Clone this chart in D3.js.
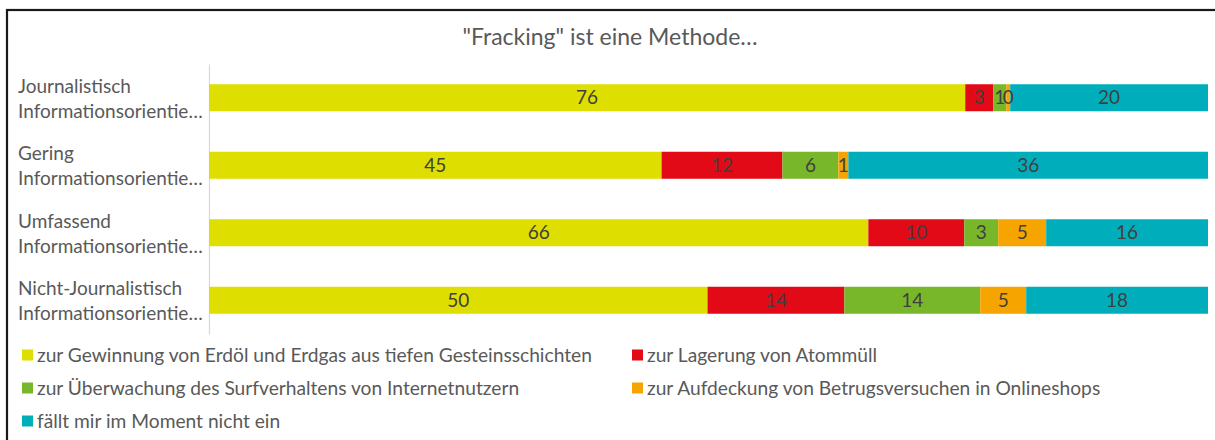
<!DOCTYPE html>
<html>
<head>
<meta charset="utf-8">
<script src="https://cdn.jsdelivr.net/npm/d3@7"></script>
<style>
  html, body { margin: 0; padding: 0; background: #fff; }
  svg { display: block; font-family: Lato, "Open Sans", sans-serif; }
</style>
</head>
<body>
<svg id="chart" width="1215" height="440"></svg>
<script>
// Respondent groups (two-line labels; second line truncated as in the axis)
const categories = [
  "Journalistisch Informationsorientierte",
  "Gering Informationsorientierte",
  "Umfassend Informationsorientierte",
  "Nicht-Journalistisch Informationsorientierte"
];
const labelLine1 = ["Journalistisch", "Gering", "Umfassend", "Nicht-Journalistisch"];
const labelLine2 = ["Informationsorientie…", "Informationsorientie…", "Informationsorientie…", "Informationsorientie…"];

// Answer options (series) and their colours
const seriesNames = [
  "zur Gewinnung von Erdöl und Erdgas aus tiefen Gesteinsschichten",
  "zur Lagerung von Atommüll",
  "zur Überwachung des Surfverhaltens von Internetnutzern",
  "zur Aufdeckung von Betrugsversuchen in Onlineshops",
  "fällt mir im Moment nicht ein"
];
const seriesColors = ["#dede00", "#e20a16", "#78b72a", "#f6a500", "#00aebb"];

// Shares in percent, one array per answer option, in category order
const gewinnung    = [75.7, 45.3, 66.0, 49.9];
const lagerung     = [2.8, 12.1, 9.6, 13.7];
const ueberwachung = [1.3, 5.6, 3.4, 13.6];
const aufdeckung   = [0.4, 1.0, 4.8, 4.6];
const weissNicht   = [19.8, 36.0, 16.2, 18.2];

const title = "\"Fracking\" ist eine Methode…";

const seriesValues = [gewinnung, lagerung, ueberwachung, aufdeckung, weissNicht];
const rows = categories.map((c, i) => {
  const r = { category: c };
  seriesNames.forEach((s, j) => { r[s] = seriesValues[j][i]; });
  return r;
});

const svg = d3.select("#chart");
const W = 1215, H = 440;

// outer frame (left and top edges visible inside the window)
svg.append("rect")
  .attr("x", 7).attr("y", 10)
  .attr("width", W + 20).attr("height", H + 20)
  .attr("fill", "#fff")
  .attr("stroke", "#1a1a1a").attr("stroke-width", 2.2);

// title
svg.append("text")
  .attr("x", 610).attr("y", 45)
  .attr("text-anchor", "middle")
  .attr("fill", "#595959")
  .attr("font-size", 23)
  .text(title);

const stack = d3.stack().keys(seriesNames).offset(d3.stackOffsetExpand);
const stacked = stack(rows);

const x = d3.scaleLinear().domain([0, 1]).range([209, 1208]);
const y = d3.scaleBand().domain(categories).range([64, 334]).paddingInner(0.6).paddingOuter(0.3);
const color = d3.scaleOrdinal().domain(seriesNames).range(seriesColors);

// category axis line
const yAxis = d3.axisLeft(y).tickSize(0).tickFormat("");
const gAxis = svg.append("g").attr("transform", "translate(209,0)").call(yAxis);
gAxis.select(".domain").attr("stroke", "#d9d9d9").attr("stroke-width", 1.2);

// category labels, left-aligned in two lines
const lab = svg.append("g").attr("fill", "#595959").attr("font-size", 19);
categories.forEach((c, i) => {
  const cy = y(c) + y.bandwidth() / 2;
  lab.append("text").attr("x", 18).attr("y", cy - 5).text(labelLine1[i]);
  lab.append("text").attr("x", 18).attr("y", cy + 20).text(labelLine2[i]);
});

// stacked bars
const fmt = d3.format(".0f");
const layers = svg.append("g").selectAll("g")
  .data(stacked).join("g")
  .attr("fill", d => color(d.key));

layers.selectAll("rect")
  .data(d => d.map(p => ({ p, key: d.key })))
  .join("rect")
  .attr("x", d => x(d.p[0]))
  .attr("width", d => x(d.p[1]) - x(d.p[0]))
  .attr("y", d => y(d.p.data.category))
  .attr("height", y.bandwidth());

// value labels centred in each segment
const vlab = svg.append("g").attr("fill", "#404040").attr("font-size", 19).attr("text-anchor", "middle");
stacked.forEach(layer => {
  layer.forEach(p => {
    const v = p.data[layer.key];
    vlab.append("text")
      .attr("x", (x(p[0]) + x(p[1])) / 2)
      .attr("y", y(p.data.category) + y.bandwidth() / 2 + 6.5)
      .text(fmt(v));
  });
});

// legend: two columns, three rows
const legendPos = [
  { x: 22, y: 355 }, { x: 632, y: 355 },
  { x: 22, y: 388 }, { x: 632, y: 388 },
  { x: 22, y: 421 }
];
const leg = svg.append("g");
seriesNames.forEach((s, i) => {
  const g = leg.append("g").attr("transform", `translate(${legendPos[i].x},${legendPos[i].y})`);
  g.append("rect").attr("x", 0).attr("y", -5.5).attr("width", 11).attr("height", 11).attr("fill", color(s));
  g.append("text").attr("x", 15).attr("y", 6.5).attr("fill", "#595959").attr("font-size", 19.2).text(s);
});
</script>
</body>
</html>
